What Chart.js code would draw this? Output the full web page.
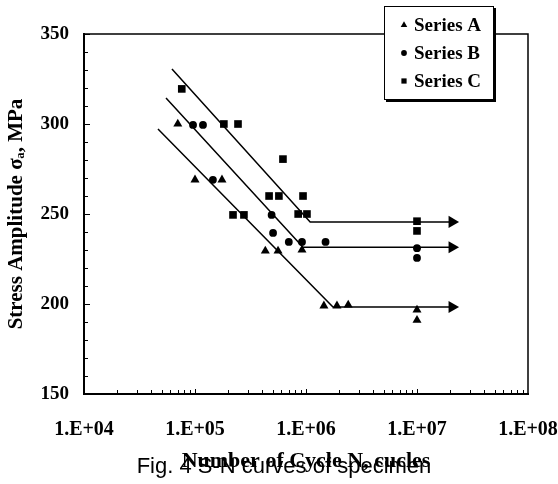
<!DOCTYPE html>
<html><head><meta charset="utf-8">
<script src="https://cdn.jsdelivr.net/npm/chart.js@4.4.1/dist/chart.umd.min.js"></script>
<style>html,body{margin:0;padding:0;background:#fff;}#wrap{position:relative;width:558px;height:484px;}</style>
</head><body><div id="wrap"><canvas id="c" width="558" height="484"></canvas></div>
<script>
// ---- data ----
const seriesNames = ['Series A', 'Series B', 'Series C'];
const aN = [7.0e4, 1.0e5, 1.75e5, 4.3e5, 5.6e5, 9.2e5, 1.45e6, 1.9e6, 2.4e6, 1e7, 1e7];
const aS = [300, 269, 269, 229.5, 229.5, 230, 199, 199, 199.5, 196.7, 191];
const bN = [9.6e4, 1.18e5, 1.45e5, 4.9e5, 5.05e5, 7.0e5, 9.2e5, 1.5e6, 1e7, 1e7];
const bS = [299.5, 299.5, 269, 249.5, 239.5, 234.5, 234.5, 234.5, 231, 225.6];
const cN = [7.6e4, 1.82e5, 2.44e5, 6.2e5, 4.65e5, 5.7e5, 9.4e5, 2.2e5, 2.76e5, 8.5e5, 1.02e6, 1e7, 1e7];
const cS = [319.5, 300, 300, 280.5, 260, 260, 260, 249.5, 249.5, 250, 250, 246, 240.6];
// fitted S-N lines (start, knee, arrow end)
const fitAN = [4.64e4, 1.75e6, 2.07e7];
const fitAS = [297.2, 198.3, 198.3];
const fitBN = [5.48e4, 9.4e5, 2.07e7];
const fitBS = [314.4, 231.5, 231.5];
const fitCN = [6.2e4, 1.09e6, 2.07e7];
const fitCS = [330.6, 245.6, 245.6];
const xTickValues = [1e4, 1e5, 1e6, 1e7, 1e8];
const xTickLabels = ['1.E+04', '1.E+05', '1.E+06', '1.E+07', '1.E+08'];
const yTickValues = [150, 200, 250, 300, 350];
const xTitle = 'Number of Cycle N, cucles';
const yTitle = 'Stress Amplitude σₐ, MPa';
const caption = 'Fig. 4 S-N curves of specimen';

const SERIF = '"Liberation Serif", "Times New Roman", serif';
function pts(xs, ys) { return xs.map((x, i) => ({ x: x, y: ys[i] })); }

const markerStyle = ['triangle', 'circle', 'rect'];
const markerRadius = [5.2, 3.9, 5.4];
const legendRadius = [3.8, 2.9, 3.7];

const scatterSets = [[aN, aS], [bN, bS], [cN, cS]].map((d, i) => ({
  type: 'scatter', label: seriesNames[i], data: pts(d[0], d[1]),
  pointStyle: markerStyle[i], pointRadius: markerRadius[i], pointHoverRadius: markerRadius[i],
  backgroundColor: '#000', borderColor: '#000', borderWidth: 0, isSeries: true
}));
const lineSets = [[fitAN, fitAS], [fitBN, fitBS], [fitCN, fitCS]].map((d, i) => ({
  type: 'line', label: 'fit ' + seriesNames[i], data: pts(d[0], d[1]),
  borderColor: '#000', borderWidth: 1.5, tension: 0, fill: false,
  pointStyle: 'triangle', pointRotation: 90, pointRadius: [0, 0, 7], pointHoverRadius: [0, 0, 7],
  pointBackgroundColor: '#000', pointBorderColor: '#000', pointBorderWidth: 0
}));

function drawMarker(ctx, style, x, y, r) {
  ctx.beginPath();
  if (style === 'circle') { ctx.arc(x, y, r, 0, Math.PI * 2); }
  else if (style === 'rect') { const s = r * Math.SQRT1_2; ctx.rect(x - s, y - s, 2 * s, 2 * s); }
  else { ctx.moveTo(x, y - r); ctx.lineTo(x + r * 0.866, y + r * 0.5); ctx.lineTo(x - r * 0.866, y + r * 0.5); ctx.closePath(); }
  ctx.fill();
}

const framePlugin = {
  id: 'frame',
  beforeDatasetsDraw(chart) {
    const { ctx, chartArea: a, scales } = chart;
    ctx.save();
    ctx.strokeStyle = '#000';
    ctx.lineWidth = 1.5;
    ctx.beginPath();
    ctx.moveTo(a.left, a.top); ctx.lineTo(a.right, a.top); ctx.lineTo(a.right, a.bottom);
    ctx.stroke();
    ctx.lineWidth = 1;
    ctx.beginPath();
    for (let v = 150; v <= 350; v += 10) {
      const y = Math.round(scales.y.getPixelForValue(v)) + 0.5;
      const len = (v % 50 === 0) ? 6 : 4;
      ctx.moveTo(a.left, y); ctx.lineTo(a.left + len, y);
    }
    for (let k = 4; k < 8; k++) {
      for (let m = 1; m <= 9; m++) {
        const x = Math.round(scales.x.getPixelForValue(m * Math.pow(10, k))) + 0.5;
        const len = (m === 1) ? 5 : 4;
        ctx.moveTo(x, a.bottom); ctx.lineTo(x, a.bottom - len);
      }
    }
    ctx.stroke();
    ctx.restore();
  },
  afterDraw(chart) {
    const ctx = chart.ctx;
    ctx.save();
    // legend box with shadow
    const bx = 384, by = 6, bw = 110, bh = 94;
    ctx.fillStyle = '#000';
    ctx.fillRect(bx + 2, by + 2, bw, bh);
    ctx.fillStyle = '#fff';
    ctx.fillRect(bx, by, bw, bh);
    ctx.strokeStyle = '#000'; ctx.lineWidth = 1;
    ctx.strokeRect(bx + 0.5, by + 0.5, bw - 1, bh - 1);
    const rows = [25, 53, 81];
    const sets = chart.data.datasets.filter(d => d.isSeries);
    ctx.fillStyle = '#000';
    ctx.font = 'bold 19px ' + SERIF;
    ctx.textAlign = 'left'; ctx.textBaseline = 'middle';
    sets.forEach((d, i) => {
      drawMarker(ctx, d.pointStyle, 404, rows[i], legendRadius[i]);
      ctx.fillText(d.label, 414, rows[i] + 1);
    });
    // caption
    ctx.font = '22px "Liberation Sans", Arial, sans-serif';
    ctx.textAlign = 'center';
    ctx.fillText(caption, 284, 467);
    ctx.restore();
  }
};

new Chart(document.getElementById('c'), {
  data: { datasets: [...lineSets, ...scatterSets] },
  options: {
    responsive: false, animation: false, devicePixelRatio: 1,
    layout: { padding: { top: 34, right: 30, left: 0, bottom: 0 } },
    plugins: { legend: { display: false }, tooltip: { enabled: false } },
    scales: {
      x: {
        type: 'logarithmic', min: 1e4, max: 1e8, position: 'bottom',
        afterBuildTicks: s => { s.ticks = xTickValues.map(v => ({ value: v, major: true })); },
        afterFit: s => { s.height = 90; s.paddingLeft = 0; s.paddingRight = 0; },
        ticks: {
          autoSkip: false, maxRotation: 0, padding: 24, color: '#000',
          font: { family: SERIF, weight: 'bold', size: 20 },
          callback: (v, i) => xTickLabels[i]
        },
        grid: { display: false, drawTicks: false },
        border: { display: true, color: '#000', width: 2 },
        title: { display: true, text: xTitle, color: '#000', font: { family: SERIF, weight: 'bold', size: 22 }, padding: { top: 0, bottom: 9 } }
      },
      y: {
        type: 'linear', min: 150, max: 350, position: 'left',
        afterBuildTicks: s => { s.ticks = yTickValues.map(v => ({ value: v })); },
        afterFit: s => { s.width = 84; s.paddingTop = 0; s.paddingBottom = 0; },
        ticks: { padding: 15, color: '#000', font: { family: SERIF, weight: 'bold', size: 19 } },
        grid: { display: false, drawTicks: false },
        border: { display: true, color: '#000', width: 2 },
        title: { display: true, text: yTitle, color: '#000', font: { family: SERIF, weight: 'bold', size: 21 }, padding: { top: 4, bottom: 0 } }
      }
    }
  },
  plugins: [framePlugin]
});
</script></body></html>
